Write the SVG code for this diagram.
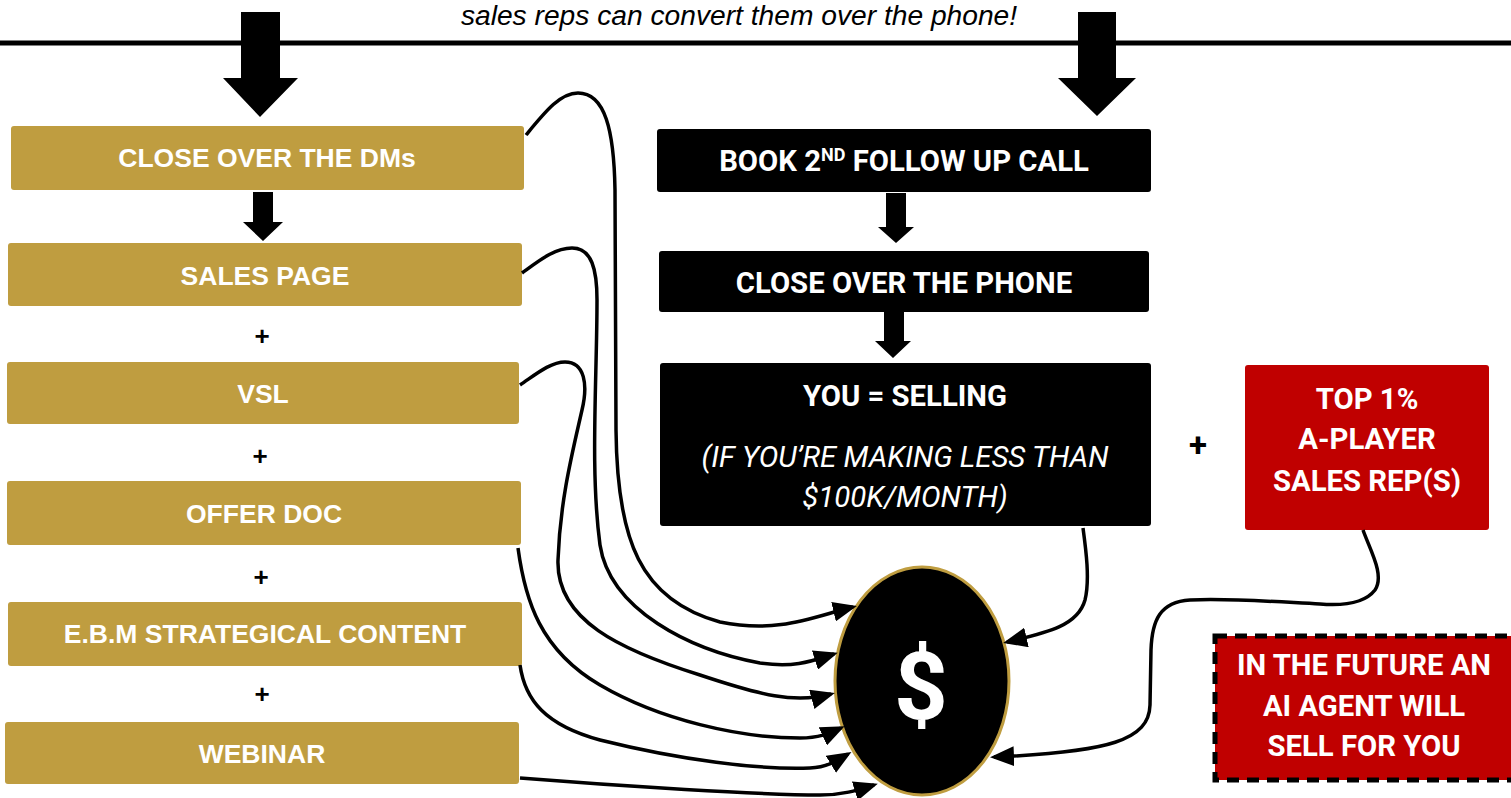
<svg xmlns="http://www.w3.org/2000/svg" width="1511" height="798" viewBox="0 0 1511 798">
<style>
.gold{fill:#BF9D40}
.blk{fill:#000}
.red{fill:#C00000}
.gt{font-family:"Liberation Sans",Arial,sans-serif;font-weight:bold;font-size:26.5px;fill:#fff;text-anchor:middle}
.wt{font-family:Roboto,"Liberation Sans",sans-serif;font-weight:bold;font-size:29.3px;fill:#fff;text-anchor:middle}
.it{font-family:Roboto,"Liberation Sans",sans-serif;font-style:italic;font-size:29.4px;fill:#fff;text-anchor:middle}
.plus{font-family:"Liberation Sans",Arial,sans-serif;font-weight:bold;font-size:26px;fill:#000;text-anchor:middle}
.con{fill:none;stroke:#000;stroke-width:3.5}
</style>
<defs>
<marker id="ah" viewBox="0 0 24 20" refX="20" refY="10" markerWidth="24" markerHeight="20" markerUnits="userSpaceOnUse" orient="auto">
<path d="M0,0 L24,10 L0,20 Z" fill="#000"/>
</marker>
</defs>
<rect width="1511" height="798" fill="#fff"/>

<text x="739" y="25" font-family="'Liberation Sans',Arial,sans-serif" font-style="italic" font-size="28.2" fill="#000" text-anchor="middle">sales reps can convert them over the phone!</text>
<rect x="0" y="40.5" width="1511" height="5" fill="#000"/>

<g id="bigarrows">
<polygon points="241,12 280,12 280,78 298,78 260,117 223,78 241,78" fill="#000"/>
<polygon points="1078,12 1116,12 1116,78 1136,78 1097,116 1058,78 1078,78" fill="#000"/>
<polygon points="253,192 273,192 273,222 283,222 263,241 243,222 253,222" fill="#000"/>
<polygon points="886,193 906,193 906,227 914,227 896,243 878,227 886,227" fill="#000"/>
<polygon points="884,312 904,312 904,341 911,341 893,358 875,341 884,341" fill="#000"/>
</g>

<g id="n_dms"><rect class="gold" x="11" y="126" width="513" height="64" rx="3"/><text class="gt" x="267" y="167">CLOSE OVER THE DMs</text></g>
<g id="n_sales"><rect class="gold" x="8" y="243" width="514" height="63" rx="3"/><text class="gt" x="265" y="285">SALES PAGE</text></g>
<text class="plus" x="262" y="345">+</text>
<g id="n_vsl"><rect class="gold" x="7" y="362" width="512" height="62" rx="3"/><text class="gt" x="263" y="403">VSL</text></g>
<text class="plus" x="260" y="465">+</text>
<g id="n_offer"><rect class="gold" x="7" y="481" width="514" height="64" rx="3"/><text class="gt" x="264" y="523">OFFER DOC</text></g>
<text class="plus" x="261" y="586">+</text>
<g id="n_ebm"><rect class="gold" x="8" y="602" width="514" height="64" rx="3"/><text class="gt" x="265" y="643">E.B.M STRATEGICAL CONTENT</text></g>
<text class="plus" x="262" y="703">+</text>
<g id="n_webinar"><rect class="gold" x="5" y="722" width="514" height="62" rx="3"/><text class="gt" x="262" y="763">WEBINAR</text></g>

<g id="n_book"><rect class="blk" x="657" y="129" width="494" height="63" rx="3"/><text class="wt" x="904" y="171">BOOK 2<tspan font-size="18" dy="-10">ND</tspan><tspan dy="10"> FOLLOW UP CALL</tspan></text></g>
<g id="n_phone"><rect class="blk" x="659" y="251" width="490" height="61" rx="3"/><text class="wt" x="904" y="293">CLOSE OVER THE PHONE</text></g>
<g id="n_you"><rect class="blk" x="660" y="363" width="491" height="163" rx="3"/>
<text class="wt" x="905" y="406">YOU = SELLING</text>
<text class="it" x="905" y="467">(IF YOU’RE MAKING LESS THAN</text>
<text class="it" x="905" y="507">$100K/MONTH)</text></g>

<text x="1198" y="456" font-family="Roboto,'Liberation Sans',sans-serif" font-weight="bold" font-size="33" fill="#000" text-anchor="middle">+</text>

<g id="n_top"><rect class="red" x="1245" y="365" width="244" height="165" rx="3"/>
<text class="wt" x="1367" y="409">TOP 1%</text>
<text class="wt" x="1367" y="449">A-PLAYER</text>
<text class="wt" x="1367" y="491">SALES REP(S)</text></g>

<g id="n_future"><rect class="red" x="1215" y="636" width="300" height="144" stroke="#000" stroke-width="5" stroke-dasharray="12,8"/>
<text class="wt" x="1364" y="675">IN THE FUTURE AN</text>
<text class="wt" x="1364" y="716">AI AGENT WILL</text>
<text class="wt" x="1364" y="756">SELL FOR YOU</text></g>

<g id="n_money"><ellipse cx="922" cy="681" rx="87" ry="114" fill="#000" stroke="#BF9D40" stroke-width="3"/>
<text x="921" y="719" font-family="Roboto,'Liberation Sans',sans-serif" font-weight="bold" font-size="94" fill="#fff" text-anchor="middle">$</text></g>

<g id="connectors">
<path class="con" marker-end="url(#ah)" d="M526,135 C545,112 560,93 578,93 C605,93 614,130 615,190 L616,430 C617,540 640,600 720,622 C780,634 815,616 853,607"/>
<path class="con" marker-end="url(#ah)" d="M522,273 C540,260 555,248 572,248 C592,248 597,270 597,300 C597,380 590,470 600,545 C610,610 690,650 760,663 C795,668 812,661 834,654"/>
<path class="con" marker-end="url(#ah)" d="M520,385 C535,375 550,362 565,362 C585,362 588,385 582,410 C573,450 560,500 558,560 C556,620 620,650 700,675 C760,695 795,704 831,694"/>
<path class="con" marker-end="url(#ah)" d="M518,548 C525,600 540,650 600,685 C660,720 740,738 800,738 C820,738 830,733 841,728"/>
<path class="con" marker-end="url(#ah)" d="M520,665 C525,700 545,725 600,740 C680,760 760,770 810,768 C828,767 838,760 848,754"/>
<path class="con" marker-end="url(#ah)" d="M520,778 C620,786 760,795 820,795 C843,795 858,790 874,785"/>
<path class="con" marker-end="url(#ah)" d="M1083,528 C1086,550 1090,580 1085,600 C1078,625 1050,632 1007,642"/>
<path class="con" marker-end="url(#ah)" d="M1363,530 C1370,550 1385,575 1375,590 C1365,603 1345,606 1320,604 C1280,602 1230,598 1190,600 C1160,602 1152,620 1151,650 L1150,705 C1149,740 1110,752 994,757"/>
</g>
</svg>
